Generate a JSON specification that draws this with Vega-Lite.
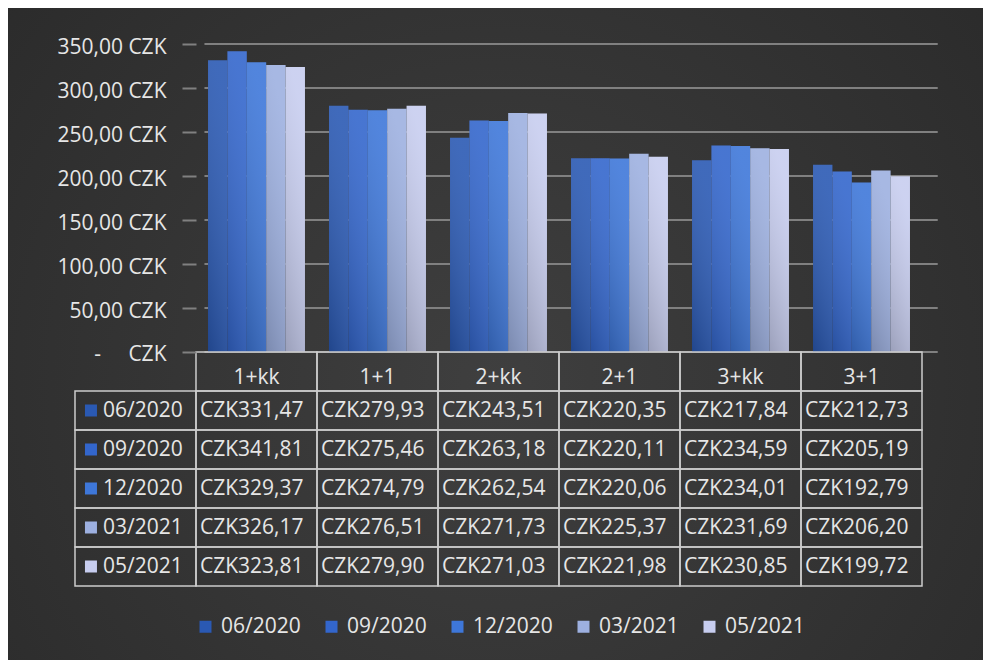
{
  "$schema": "https://vega.github.io/schema/vega-lite/v6.json",
  "background": "white",
  "padding": {"left": 8, "top": 8, "right": 0, "bottom": 0},
  "width": 975,
  "height": 652,
  "config": {"view": {"fill": "#353535", "stroke": null}, "font": "Open Sans"},
  "datasets": {
    "prices": [
      {"cat": "1+kk", "series": "06/2020", "value": 331.47},
      {"cat": "1+kk", "series": "09/2020", "value": 341.81},
      {"cat": "1+kk", "series": "12/2020", "value": 329.37},
      {"cat": "1+kk", "series": "03/2021", "value": 326.17},
      {"cat": "1+kk", "series": "05/2021", "value": 323.81},
      {"cat": "1+1", "series": "06/2020", "value": 279.93},
      {"cat": "1+1", "series": "09/2020", "value": 275.46},
      {"cat": "1+1", "series": "12/2020", "value": 274.79},
      {"cat": "1+1", "series": "03/2021", "value": 276.51},
      {"cat": "1+1", "series": "05/2021", "value": 279.90},
      {"cat": "2+kk", "series": "06/2020", "value": 243.51},
      {"cat": "2+kk", "series": "09/2020", "value": 263.18},
      {"cat": "2+kk", "series": "12/2020", "value": 262.54},
      {"cat": "2+kk", "series": "03/2021", "value": 271.73},
      {"cat": "2+kk", "series": "05/2021", "value": 271.03},
      {"cat": "2+1", "series": "06/2020", "value": 220.35},
      {"cat": "2+1", "series": "09/2020", "value": 220.11},
      {"cat": "2+1", "series": "12/2020", "value": 220.06},
      {"cat": "2+1", "series": "03/2021", "value": 225.37},
      {"cat": "2+1", "series": "05/2021", "value": 221.98},
      {"cat": "3+kk", "series": "06/2020", "value": 217.84},
      {"cat": "3+kk", "series": "09/2020", "value": 234.59},
      {"cat": "3+kk", "series": "12/2020", "value": 234.01},
      {"cat": "3+kk", "series": "03/2021", "value": 231.69},
      {"cat": "3+kk", "series": "05/2021", "value": 230.85},
      {"cat": "3+1", "series": "06/2020", "value": 212.73},
      {"cat": "3+1", "series": "09/2020", "value": 205.19},
      {"cat": "3+1", "series": "12/2020", "value": 192.79},
      {"cat": "3+1", "series": "03/2021", "value": 206.20},
      {"cat": "3+1", "series": "05/2021", "value": 199.72}
    ],
    "grid": [{"v": 0}, {"v": 50}, {"v": 100}, {"v": 150}, {"v": 200}, {"v": 250}, {"v": 300}, {"v": 350}]
  },
  "resolve": {"scale": {"y": "independent"}, "axis": {"y": "independent"}},
  "layer": [
    {
      "data": {"values": [{}]},
      "mark": {"type": "rect", "color": {"gradient": "radial", "x1": 0.5, "y1": 0.55, "x2": 0.5, "y2": 0.55, "r1": 0, "r2": 0.75, "stops": [{"offset": 0, "color": "#3f3f3f"}, {"offset": 1, "color": "#282828"}]}},
      "encoding": {}
    },
    {
      "layer": [
        {
          "data": {"name": "grid"},
          "mark": {"type": "rule", "color": "#808080", "strokeWidth": 2},
          "encoding": {
            "y": {"field": "v", "type": "quantitative",
              "scale": {"domain": [-350.1, 391], "nice": false, "zero": false},
              "axis": {"title": null, "zindex": 1, "values": [0, 50, 100, 150, 200, 250, 300, 350], "offset": -188, "domain": false, "grid": false, "tickSize": 14, "tickColor": "#808080", "tickWidth": 2, "labelPadding": 16, "labelFont": "Open Sans", "labelFontSize": 21, "labelColor": "#e6e6e6", "labelOffset": 3, "labelFlush": false, "labelBound": false, "labelOverlap": false,
                "labelExpr": "datum.value == 0 ? '-\u00a0\u00a0\u00a0\u00a0\u00a0CZK' : replace(format(datum.value, '.2f'), '.', ',') + ' CZK'"}},
            "x": {"datum": "1+kk", "type": "nominal", "bandPosition": 0.07,
              "scale": {"domain": ["lbl", "1+kk", "1+1", "2+kk", "2+1", "3+kk", "3+1"], "paddingInner": 0, "paddingOuter": 0.5289, "align": 0.5234},
              "axis": null},
            "x2": {"datum": "3+1", "bandPosition": 1.13}
          }
        },
        {
          "data": {"name": "prices"},
          "mark": {"type": "bar"},
          "encoding": {
            "x": {"field": "cat", "type": "nominal", "axis": null},
            "xOffset": {"field": "series", "type": "nominal",
              "scale": {"domain": ["06/2020", "09/2020", "12/2020", "03/2021", "05/2021"], "paddingInner": 0, "paddingOuter": 0.62}},
            "y": {"field": "value", "type": "quantitative"},
            "color": {"field": "series", "type": "nominal",
              "scale": {"domain": ["06/2020", "09/2020", "12/2020", "03/2021", "05/2021"], "range": ["#2a59b3", "#3366cc", "#3e77d9", "#9db0e0", "#c7cdef"]},
              "legend": {"title": null, "orient": "none", "legendX": 187, "legendY": 608, "direction": "horizontal", "gridAlign": "all", "symbolType": "square", "symbolSize": 144, "symbolStrokeWidth": 0, "labelFont": "Open Sans", "labelFontSize": 21, "labelColor": "#e6e6e6", "labelOffset": 5, "columnPadding": 20, "padding": 0}}
          }
        },
        {
          "data": {"name": "prices"},
          "mark": {"type": "bar", "color": {"gradient": "linear", "x1": 0, "y1": 1, "x2": 0.3, "y2": 0, "stops": [{"offset": 0, "color": "rgba(0,0,0,0.22)"}, {"offset": 1, "color": "rgba(255,255,255,0.10)"}]}},
          "encoding": {
            "x": {"field": "cat", "type": "nominal", "axis": null},
            "xOffset": {"field": "series", "type": "nominal"},
            "y": {"field": "value", "type": "quantitative"}
          }
        }
      ]
    },
    {
      "data": {"name": "prices"},
      "layer": [
        {
          "mark": {"type": "rect", "fillOpacity": 0, "stroke": "#cccccc", "strokeWidth": 1.5},
          "encoding": {
            "x": {"field": "cat", "type": "nominal", "axis": null},
            "y": {"field": "series", "type": "nominal", "axis": null,
              "scale": {"domain": ["hdr", "06/2020", "09/2020", "12/2020", "03/2021", "05/2021"], "paddingInner": 0, "paddingOuter": 0, "range": [344, 578]}}
          }
        },
        {
          "transform": [{"aggregate": [{"op": "count", "as": "n"}], "groupby": ["cat"]}],
          "mark": {"type": "rect", "fillOpacity": 0, "stroke": "#cccccc", "strokeWidth": 1.5},
          "encoding": {
            "x": {"field": "cat", "type": "nominal", "axis": null},
            "y": {"datum": "hdr", "type": "nominal", "axis": null}
          }
        },
        {
          "transform": [{"aggregate": [{"op": "count", "as": "n"}], "groupby": ["series"]}],
          "mark": {"type": "rect", "fillOpacity": 0, "stroke": "#cccccc", "strokeWidth": 1.5},
          "encoding": {
            "x": {"datum": "lbl", "type": "nominal", "axis": null},
            "y": {"field": "series", "type": "nominal", "axis": null}
          }
        },
        {
          "transform": [{"calculate": "'CZK' + replace(format(datum.value, '.2f'), '.', ',')", "as": "txt"}],
          "mark": {"type": "text", "align": "left", "dx": 4, "font": "Open Sans", "fontSize": 21, "color": "#e6e6e6"},
          "encoding": {
            "x": {"field": "cat", "type": "nominal", "bandPosition": 0, "axis": null},
            "y": {"field": "series", "type": "nominal", "axis": null},
            "text": {"field": "txt"}
          }
        },
        {
          "transform": [{"aggregate": [{"op": "count", "as": "n"}], "groupby": ["cat"]}],
          "mark": {"type": "text", "align": "center", "dy": 6, "font": "Open Sans", "fontSize": 21, "color": "#e6e6e6"},
          "encoding": {
            "x": {"field": "cat", "type": "nominal", "axis": null},
            "y": {"datum": "hdr", "type": "nominal", "axis": null},
            "text": {"field": "cat"}
          }
        },
        {
          "transform": [{"aggregate": [{"op": "count", "as": "n"}], "groupby": ["series"]}],
          "mark": {"type": "text", "align": "left", "dx": 28, "font": "Open Sans", "fontSize": 21, "color": "#e6e6e6"},
          "encoding": {
            "x": {"datum": "lbl", "type": "nominal", "bandPosition": 0, "axis": null},
            "y": {"field": "series", "type": "nominal", "axis": null},
            "text": {"field": "series"}
          }
        },
        {
          "transform": [{"aggregate": [{"op": "count", "as": "n"}], "groupby": ["series"]}],
          "mark": {"type": "square", "size": 144, "opacity": 1, "strokeWidth": 0},
          "encoding": {
            "x": {"datum": "lbl", "type": "nominal", "bandPosition": 0.132, "axis": null},
            "y": {"field": "series", "type": "nominal", "axis": null},
            "color": {"field": "series", "type": "nominal"}
          }
        }
      ]
    }
  ]
}
